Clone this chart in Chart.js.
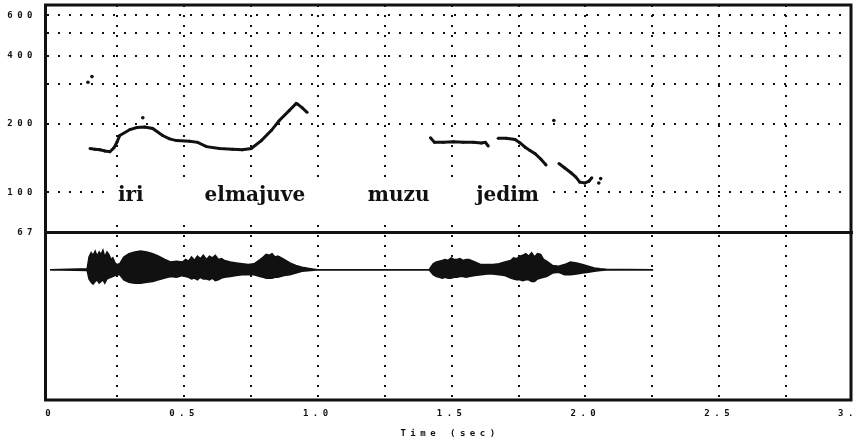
<!DOCTYPE html>
<html>
<head>
<meta charset="utf-8">
<script src="https://cdn.jsdelivr.net/npm/chart.js@4/dist/chart.umd.min.js"></script>
<style>
  html, body { margin: 0; padding: 0; background: #fff; }
</style>
</head>
<body>
<canvas id="pitchChart" width="857" height="441"></canvas>
<script>
// F0 track (sec / Hz), null = unvoiced gap
const pitchTime = [0.149, 0.167, 0.186, 0.205, 0.223, 0.238, 0.249, 0.260, 0.298, 0.324, 0.353, 0.383, 0.420, 0.446, 0.472,
  0.521, 0.551, 0.584, 0.632, 0.681, 0.718, 0.751, 0.789, 0.826, 0.856, 0.893, 0.919, 0.923, 0.941, 0.960,
  1.200,
  1.421, 1.436, 1.469, 1.507, 1.544, 1.581, 1.611, 1.626, 1.637,
  1.655,
  1.674, 1.704, 1.737, 1.756, 1.775, 1.793, 1.812, 1.834, 1.853,
  1.877,
  1.901, 1.923, 1.946, 1.964, 1.979, 1.998, 2.013, 2.024];
const pitchHz = [156, 155, 154, 152, 151, 157, 166, 178, 189, 193, 194, 191, 178, 172, 169,
  168, 166, 159, 156, 155, 154, 156, 169, 187, 207, 229, 246, 245, 236, 225,
  null,
  174, 166, 166, 167, 166, 166, 165, 166, 160,
  null,
  173, 173, 171, 165, 158, 153, 148, 140, 132,
  null,
  134, 128, 122, 117, 111, 110, 112, 116];

// stray pitch points
const strayTime = [0.141, 0.156, 0.346, 1.882, 2.050, 2.057];
const strayHz = [305, 323, 213, 207, 110, 115];

// waveform envelope (relative amplitude)
const envTime = [0.000, 0.138, 0.145, 0.153, 0.160, 0.168, 0.175, 0.183, 0.190, 0.197, 0.204, 0.212, 0.219, 0.227, 0.234,
  0.242, 0.249, 0.260, 0.275, 0.294, 0.316,
  0.338, 0.361, 0.383, 0.405, 0.428, 0.450, 0.472, 0.494, 0.506, 0.517, 0.528, 0.539, 0.550, 0.561, 0.572, 0.584,
  0.595, 0.606, 0.617, 0.628, 0.640, 0.651,
  0.673, 0.695, 0.717, 0.740, 0.762, 0.784, 0.796, 0.807, 0.818, 0.829, 0.840, 0.851, 0.874, 0.896, 0.918, 0.941,
  0.963, 0.985,
  1.000, 1.416, 1.431, 1.443, 1.454, 1.465, 1.476, 1.487, 1.498, 1.509, 1.520, 1.531, 1.543, 1.554, 1.565, 1.587,
  1.610, 1.632, 1.654, 1.677, 1.699,
  1.721, 1.732, 1.743, 1.755, 1.766, 1.777, 1.788, 1.799, 1.810, 1.821, 1.833, 1.844, 1.855, 1.877, 1.900, 1.922,
  1.944, 1.967, 1.989, 2.011, 2.033,
  2.056, 2.078, 2.253];
const envUpper = [0, 0.05, 0.75, 1.0, 0.85, 1.1, 0.8, 1.05, 0.9, 1.15, 0.75, 1.05, 0.9, 0.6, 0.7,
  0.4, 0.3, 0.35, 0.75, 0.95, 1.05,
  1.1, 1.05, 0.95, 0.8, 0.6, 0.45, 0.5, 0.45, 0.6, 0.5, 0.75, 0.55, 0.8, 0.65, 0.85, 0.6,
  0.8, 0.7, 0.85, 0.6, 0.65, 0.55,
  0.45, 0.4, 0.35, 0.3, 0.35, 0.6, 0.75, 0.9, 0.85, 0.95, 0.75, 0.8, 0.6, 0.4, 0.25, 0.15,
  0.08, 0.03,
  0, 0, 0.35, 0.45, 0.5, 0.55, 0.6, 0.55, 0.7, 0.6, 0.6, 0.65, 0.55, 0.6, 0.6, 0.45,
  0.3, 0.3, 0.3, 0.35, 0.45,
  0.55, 0.7, 0.65, 0.8, 0.85, 0.95, 0.8, 1.0, 0.75, 0.95, 0.9, 0.6, 0.5, 0.25, 0.2, 0.3,
  0.45, 0.4, 0.3, 0.2, 0.1,
  0.05, 0.02, 0];
const envLower = [0, -0.05, -0.55, -0.75, -0.85, -0.7, -0.6, -0.8, -0.7, -0.6, -0.8, -0.55, -0.5, -0.45, -0.4,
  -0.35, -0.3, -0.3, -0.6, -0.75, -0.8,
  -0.8, -0.75, -0.7, -0.6, -0.5, -0.4, -0.45, -0.35, -0.4, -0.45, -0.55, -0.5, -0.6, -0.45, -0.55, -0.55,
  -0.6, -0.5, -0.65, -0.6, -0.5, -0.45,
  -0.4, -0.35, -0.3, -0.3, -0.3, -0.4, -0.45, -0.5, -0.5, -0.5, -0.45, -0.45, -0.35, -0.3, -0.2, -0.1,
  -0.06, -0.03,
  0, 0, -0.3, -0.4, -0.45, -0.5, -0.45, -0.5, -0.5, -0.45, -0.45, -0.4, -0.4, -0.45, -0.4, -0.35,
  -0.3, -0.25, -0.25, -0.3, -0.35,
  -0.5, -0.55, -0.6, -0.6, -0.65, -0.6, -0.6, -0.7, -0.7, -0.55, -0.5, -0.45, -0.4, -0.2, -0.15, -0.3,
  -0.3, -0.25, -0.2, -0.15, -0.1,
  -0.05, -0.02, 0];

// word labels (left edge in sec, baseline in Hz)
const words = ['iri', 'elmajuve', 'muzu', 'jedim'];
const wordTime = [0.253, 0.577, 1.187, 1.592];
const wordHz = 92;

// axis ticks
const timeTicks = [0, 0.25, 0.5, 0.75, 1.0, 1.25, 1.5, 1.75, 2.0, 2.25, 2.5, 2.75, 3.0];
const hzTicks = [66.7, 100, 200, 300, 400, 500, 600];
const hzLabels = { 66.7: '67', 100: '100', 200: '200', 400: '400', 600: '600' };

const toXY = (xs, ys) => xs.map((t, i) => ({ x: t, y: ys[i] }));
const ink = '#111';

const frameAndWords = {
  id: 'frameAndWords',
  beforeDraw(chart) {
    chart.ctx.letterSpacing = '4.5px';
  },
  beforeDatasetsDraw(chart) {
    const { ctx, scales: { x, y } } = chart;
    ctx.save();
    ctx.letterSpacing = '0px';
    // labels were pasted over the grid
    ctx.fillStyle = '#fff';
    const l = x.getPixelForValue(0.225), r = x.getPixelForValue(1.875);
    const t = y.getPixelForValue(110), b = y.getPixelForValue(77);
    ctx.fillRect(l, t, r - l, b - t);
    ctx.fillStyle = ink;
    ctx.font = 'bold 20px "DejaVu Serif"';
    ctx.textBaseline = 'alphabetic';
    words.forEach((w, i) => ctx.fillText(w, x.getPixelForValue(wordTime[i]), y.getPixelForValue(wordHz)));
    ctx.restore();
  },
  afterDraw(chart) {
    const { ctx, chartArea: a, scales: { y } } = chart;
    ctx.save();
    ctx.strokeStyle = ink;
    ctx.lineWidth = 3;
    ctx.strokeRect(a.left - 1.5, a.top, a.right - a.left - 0.5, a.bottom - a.top);
    ctx.beginPath();
    ctx.moveTo(a.left, y.bottom);
    ctx.lineTo(a.right, y.bottom);
    ctx.stroke();
    ctx.restore();
  }
};

const tickFont = { family: 'DejaVu Sans Mono', weight: 'bold', size: 9 };

new Chart(document.getElementById('pitchChart'), {
  type: 'scatter',
  data: {
    datasets: [
      {
        data: toXY(pitchTime, pitchHz), yAxisID: 'y', showLine: true, spanGaps: false,
        borderColor: ink, borderWidth: 3, pointRadius: 1.5, pointBackgroundColor: ink, pointBorderWidth: 0
      },
      {
        data: toXY(strayTime, strayHz), yAxisID: 'y', showLine: false,
        pointRadius: 1.8, pointBackgroundColor: ink, pointBorderWidth: 0
      },
      {
        data: toXY(envTime, envUpper), yAxisID: 'y2', showLine: true, fill: '+1',
        borderColor: ink, backgroundColor: ink, borderWidth: 1.5, pointRadius: 0
      },
      {
        data: toXY(envTime, envLower), yAxisID: 'y2', showLine: true,
        borderColor: ink, borderWidth: 1.5, pointRadius: 0
      }
    ]
  },
  options: {
    responsive: false,
    animation: false,
    events: [],
    layout: { padding: { top: 5, right: 0, left: 0, bottom: 0 } },
    plugins: { legend: { display: false }, tooltip: { enabled: false } },
    scales: {
      x: {
        type: 'linear', min: -0.012, max: 3.0,
        afterBuildTicks: s => { s.ticks = timeTicks.map(v => ({ value: v })); },
        afterFit: s => { s.height = 41; s.paddingLeft = 0; s.paddingRight = 0; },
        ticks: {
          autoSkip: false, maxRotation: 0, padding: 8, color: ink, font: tickFont,
          callback: v => (v * 2) % 1 === 0 ? (v === 0 ? '0' : v.toFixed(1)) : ''
        },
        grid: {
          drawTicks: false, lineWidth: 2,
          color: c => (c.tick && (c.tick.value === 0 || c.tick.value === 3)) ? 'transparent' : ink
        },
        border: { display: false, dash: [2, 8] },
        title: { display: true, text: 'Time (sec)', color: ink, font: tickFont, padding: { top: 4, bottom: 2 } }
      },
      y2: {
        type: 'linear', min: -7.7, max: 2.2, stack: 'panels', stackWeight: 168, position: 'left',
        afterFit: s => { s.width = 47; s.paddingTop = 0; s.paddingBottom = 0; },
        ticks: { display: false },
        grid: { display: false },
        border: { display: false }
      },
      y: {
        type: 'logarithmic', min: 66.7, max: 667, stack: 'panels', stackWeight: 228, position: 'left',
        afterBuildTicks: s => { s.ticks = hzTicks.map(v => ({ value: v })); },
        afterFit: s => { s.width = 47; s.paddingTop = 0; s.paddingBottom = 0; },
        ticks: {
          autoSkip: false, padding: 10, color: ink, font: tickFont,
          callback: v => hzLabels[v] || ''
        },
        grid: { drawTicks: false, lineWidth: 2, color: ink },
        border: { display: false, dash: [2, 9] }
      }
    }
  },
  plugins: [frameAndWords]
});
</script>
</body>
</html>
